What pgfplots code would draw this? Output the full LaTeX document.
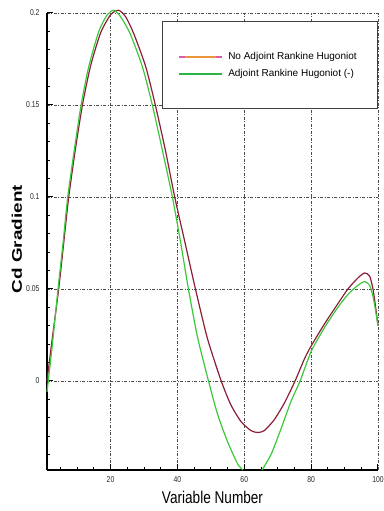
\documentclass[border=0pt]{standalone}
\usepackage{fontspec}
\setmainfont{Liberation Sans}
\usepackage{graphicx}
\usepackage{pgfplots}
\pgfplotsset{compat=1.18}
\definecolor{redc}{RGB}{140,30,55}
\definecolor{greenc}{RGB}{60,200,60}
\definecolor{legorange}{RGB}{235,150,60}
\definecolor{legpink}{RGB}{220,90,170}
\definecolor{leggreen}{RGB}{45,180,70}
\newcommand\nl[1]{\scalebox{0.8}[1]{#1}}
\begin{document}
\begin{tikzpicture}
\begin{axis}[
  name=ax,
  scale only axis,
  width=331pt, height=457pt,
  xmin=1, xmax=100, ymin=-0.0484, ymax=0.2,
  clip=false,
  unbounded coords=jump,
  axis x line=bottom, axis y line=left,
  axis line style={-, line width=1.2pt, black},
  tick align=inside,
  major tick length=6pt, minor tick length=3.5pt,
  every tick/.style={black, line width=1pt},
  minor tick style={line width=0.7pt},
  xtick={20,40,60,80,100},
  xticklabels={\nl{20},\nl{40},\nl{60},\nl{80},\nl{100}},
  minor xtick={5,10,15,25,30,35,45,50,55,65,70,75,85,90,95},
  ytick={0,0.05,0.1,0.15,0.2},
  yticklabels={\nl{0},\nl{0.05},\nl{0.1},\nl{0.15},\nl{0.2}},
  minor ytick={-0.04,-0.03,-0.02,-0.01,0.01,0.02,0.03,0.04,0.06,0.07,0.08,0.09,0.11,0.12,0.13,0.14,0.16,0.17,0.18,0.19},
  tick label style={font=\fontsize{8.5}{9}\selectfont, text=black!85},
  xticklabel style={yshift=-3pt},
  yticklabel style={xshift=-4pt},
  xmajorgrids, ymajorgrids,
  major grid style={black!70, line width=0.5pt, dash pattern=on 3pt off 1.5pt on 1pt off 1.5pt},
  every axis x label/.style={at={(axis description cs:0.5,0)}, anchor=center, yshift=-27pt},
  every axis y label/.style={at={(axis description cs:-0.091,0.505)}, anchor=center, rotate=90},
  xlabel={\fontsize{17}{18}\selectfont\scalebox{0.8}[1]{Variable Number}},
  ylabel={\fontsize{14}{15}\selectfont\scalebox{1.35}[1]{\bfseries Cd Gradient}},
  legend cell align=left,
  legend style={at={(rel axis cs:0.347,0.9825)}, anchor=north west,
    draw=black!75, line width=0.8pt, inner xsep=16pt, inner ysep=29pt,
    font=\fontsize{10}{12}\selectfont, row sep=4pt,
    nodes={inner xsep=5pt}},
]
\addplot[redc, line width=1.2pt, smooth, tension=0.4,
  legend image code/.code={%
    \draw[line width=2pt, legorange] (0pt,0pt) -- (43pt,0pt);
    \draw[line width=2pt, legpink] (0pt,0pt) -- (6pt,0pt);
    \draw[line width=2pt, legpink] (37pt,0pt) -- (43pt,0pt);}]
coordinates {
(1,0.000) (2.5,0.022) (4.5,0.050) (6,0.075) (7.5,0.100) (9.5,0.126)
(11.6,0.150) (14,0.171) (17,0.189) (20,0.199) (22.4,0.2015) (24.5,0.198)
(26.9,0.189) (30.5,0.171) (33.4,0.150) (36.4,0.1255) (39.2,0.100)
(42.3,0.075) (45.4,0.050) (49,0.023) (53.1,0.000) (56,-0.013) (59,-0.022)
(62,-0.027) (64,-0.028) (66,-0.027) (69,-0.021) (72,-0.012) (75.2,0.000)
(78,0.012) (80,0.019) (84,0.031) (88,0.042) (91,0.050) (94,0.056)
(96,0.0587) (97.5,0.057) (98.5,0.050) (99.3,0.040) (100,0.030)
};
\addlegendentry{No Adjoint Rankine Hugoniot}
\addplot[greenc, line width=1.2pt, smooth, tension=0.4,
  legend image code/.code={%
    \draw[line width=2pt, leggreen] (0pt,0pt) -- (43pt,0pt);}]
coordinates {
(1,-0.006) (2.5,0.018) (4.3,0.050) (5.8,0.075) (7.2,0.100) (9.2,0.126)
(11.2,0.150) (13.5,0.171) (16.5,0.190) (19,0.199) (21,0.2015) (23,0.198)
(25.8,0.189) (29.5,0.171) (32.5,0.150) (35.5,0.1255) (38.5,0.100)
(41,0.075) (43.3,0.050) (46,0.024) (49.3,0.000) (52,-0.018) (55,-0.033)
(58,-0.045) (59.6,-0.0484)
(62,nan)
(65.3,-0.0484) (68,-0.040) (71,-0.026) (74,-0.011) (76.7,0.000)
(80,0.016) (84,0.029) (88,0.040) (91,0.047) (94,0.052) (96,0.054)
(97.5,0.052) (98.5,0.046) (99.3,0.038) (100,0.030)
};
\addlegendentry{Adjoint Rankine Hugoniot (-)}
\end{axis}
\pgfresetboundingbox
\path[use as bounding box] ([xshift=-47pt,yshift=-41pt]ax.south west) rectangle ([xshift=6pt,yshift=13pt]ax.north east);
\end{tikzpicture}
\end{document}
